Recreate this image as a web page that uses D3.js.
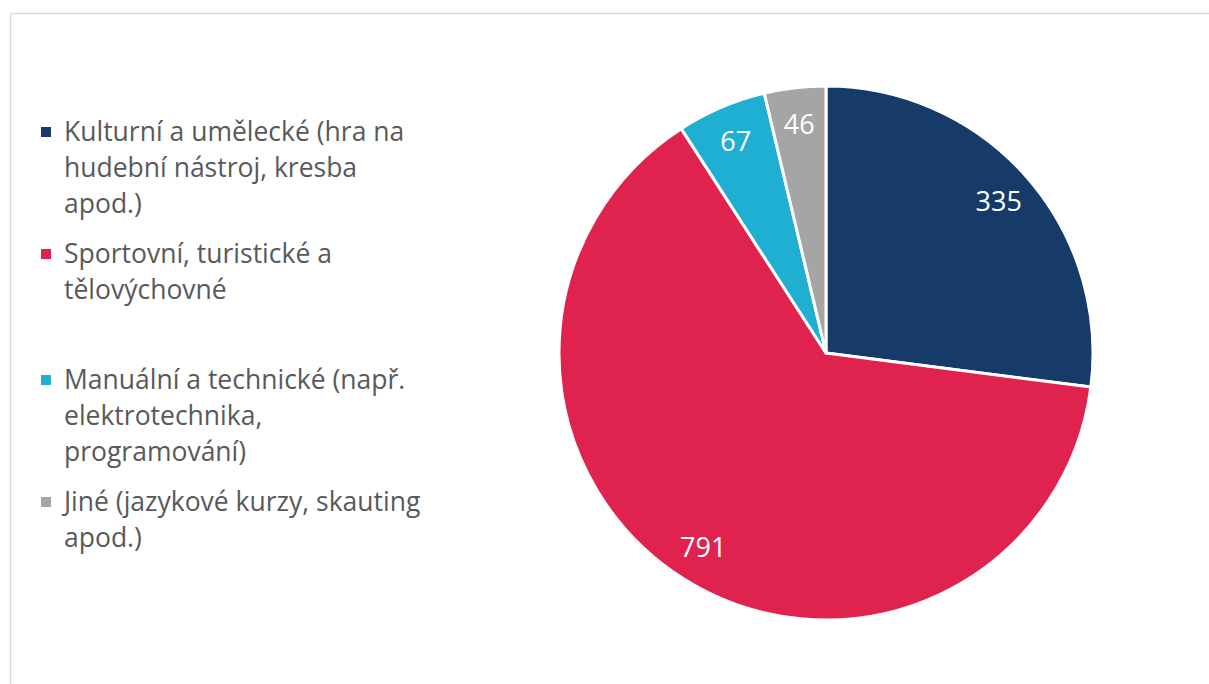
<html>
<head>
    <script src="https://d3js.org/d3.v7.min.js"></script>
    <style>
        body { margin: 0; font-family: 'Open Sans', sans-serif; background: #ffffff; }
    </style>
</head>
<body>
    <svg id="pie_chart" width="1209" height="684"></svg>

    <script>

    var categories = ["Kulturní a umělecké (hra na hudební nástroj, kresba apod.)",
                      "Sportovní, turistické a tělovýchovné",
                      "Manuální a technické (např. elektrotechnika, programování)",
                      "Jiné (jazykové kurzy, skauting apod.)"];
    var legendLines = [["Kulturní a umělecké (hra na", "hudební nástroj, kresba", "apod.)"],
                       ["Sportovní, turistické a", "tělovýchovné"],
                       ["Manuální a technické (např.", "elektrotechnika,", "programování)"],
                       ["Jiné (jazykové kurzy, skauting", "apod.)"]];
    var values = [335, 791, 67, 46];
    var colors = ["#173b68", "#e0234e", "#1eafd3", "#a5a5a5"];

    var svg = d3.select("#pie_chart");

    // light frame, only top and left edges are visible in the picture
    svg.append("line").attr("x1", 10.5).attr("y1", 13.5).attr("x2", 1209).attr("y2", 13.5)
        .attr("stroke", "#d9d9d9").attr("stroke-width", 1.5);
    svg.append("line").attr("x1", 10.5).attr("y1", 13.5).attr("x2", 10.5).attr("y2", 684)
        .attr("stroke", "#d9d9d9").attr("stroke-width", 1.5);

    var cx = 826, cy = 353, radius = 267;

    var pie = d3.pie().sort(null).value(function (d) { return d; });
    var arc = d3.arc().innerRadius(0).outerRadius(radius);
    var labelArc = d3.arc().innerRadius(230).outerRadius(230);

    var g = svg.append("g").attr("transform", "translate(" + cx + "," + cy + ")");

    g.selectAll("path.slice")
        .data(pie(values))
        .enter()
        .append("path")
        .attr("class", "slice")
        .attr("d", arc)
        .attr("fill", function (d, i) { return colors[i]; })
        .attr("stroke", "#ffffff")
        .attr("stroke-width", 3)
        .attr("stroke-linejoin", "round");

    g.selectAll("text.value")
        .data(pie(values))
        .enter()
        .append("text")
        .attr("class", "value")
        .attr("transform", function (d) { return "translate(" + labelArc.centroid(d) + ")"; })
        .attr("text-anchor", "middle")
        .attr("dy", "0.35em")
        .attr("fill", "#ffffff")
        .attr("font-size", 27)
        .text(function (d) { return d.data; });

    // legend
    var legendTop = [132, 254, 380, 502];
    var lineHeight = 36;

    var legend = svg.selectAll("g.legend")
        .data(categories)
        .enter()
        .append("g")
        .attr("class", "legend")
        .attr("transform", function (d, i) { return "translate(41," + legendTop[i] + ")"; });

    legend.append("rect")
        .attr("x", 0).attr("y", -5)
        .attr("width", 10).attr("height", 10)
        .attr("fill", function (d, i) { return colors[i]; });

    legend.append("text")
        .attr("x", 23)
        .attr("fill", "#595959")
        .attr("font-size", 26.5)
        .selectAll("tspan")
        .data(function (d, i) { return legendLines[i]; })
        .enter()
        .append("tspan")
        .attr("x", 23)
        .attr("y", function (d, j) { return j * lineHeight; })
        .attr("dy", "0.35em")
        .text(function (d) { return d; });
    </script>
</body>
</html>
